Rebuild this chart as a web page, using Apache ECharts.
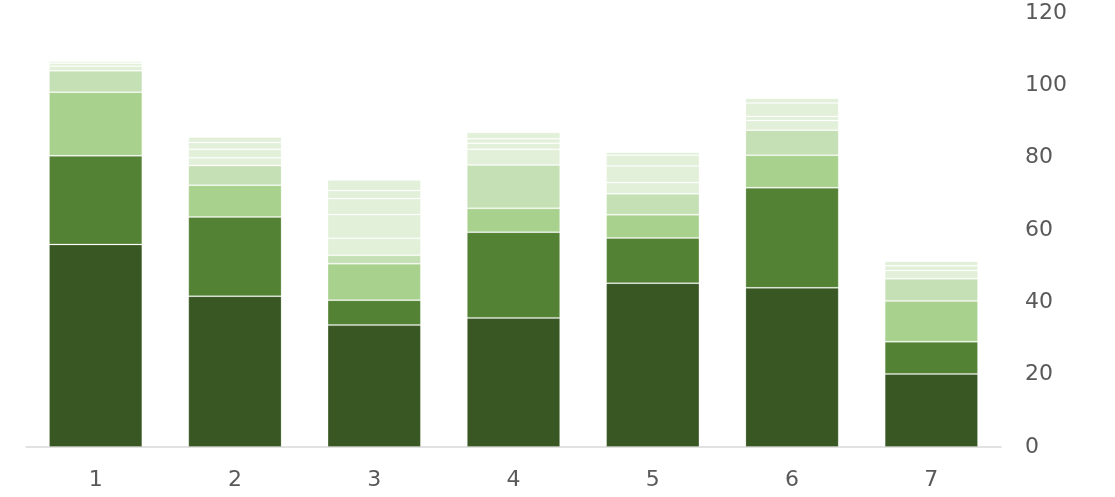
<!DOCTYPE html>
<html><head><meta charset="utf-8">
<script src="https://cdn.jsdelivr.net/npm/echarts@6/dist/echarts.min.js"></script>
<style>html,body{margin:0;padding:0;background:#fff}#c{width:1115px;height:497px}</style>
</head><body><div id="c"></div>
<script>
const categories = ['1','2','3','4','5','6','7'];
const s1 = [56.0, 41.7, 33.7, 35.7, 45.3, 44.0, 20.2];
const s2 = [24.5, 21.9, 6.9, 23.7, 12.5, 27.7, 8.9];
const s3 = [17.6, 8.8, 10.1, 6.6, 6.4, 9.0, 11.3];
const s4 = [5.9, 5.4, 2.3, 12.0, 5.8, 6.9, 6.1];
const s5 = [1.3, 2.2, 4.7, 4.3, 3.1, 2.7, 2.3];
const s6 = [0.8, 2.3, 6.6, 1.7, 4.6, 1.1, 1.3];
const s7 = [0.6, 1.9, 4.4, 1.2, 3.0, 3.7, 1.3];
const s8 = [0, 1.5, 2.2, 1.8, 0.8, 1.3, 0];
const s9 = [0, 0, 2.9, 0, 0, 0, 0];
const colors = ['#385723','#548235','#A9D18E','#C5E0B4','#E2F0D9','#E2F0D9','#E2F0D9','#E2F0D9','#E2F0D9'];
const all = [s1,s2,s3,s4,s5,s6,s7,s8,s9];
const chart = echarts.init(document.getElementById('c'));
chart.setOption({
  animation:false,
  grid:{left:26,right:114,top:13,bottom:50},
  xAxis:{type:'category',data:categories,
    axisLine:{lineStyle:{color:'#D9D9D9',width:1.5}},axisTick:{show:false},
    axisLabel:{color:'#595959',fontSize:22,fontFamily:'DejaVu Sans',margin:22}},
  yAxis:{type:'value',position:'right',min:0,max:120,interval:20,
    splitLine:{show:false},axisLine:{show:false},axisTick:{show:false},
    axisLabel:{color:'#595959',fontSize:22,fontFamily:'DejaVu Sans',margin:24,align:'left'}},
  series: all.map((d,i)=>({type:'bar',stack:'a',data:d,barCategoryGap:'33%',
    itemStyle:{color:colors[i],borderColor:'rgba(255,255,255,0.2)',borderWidth:1}}))
});
</script></body></html>
